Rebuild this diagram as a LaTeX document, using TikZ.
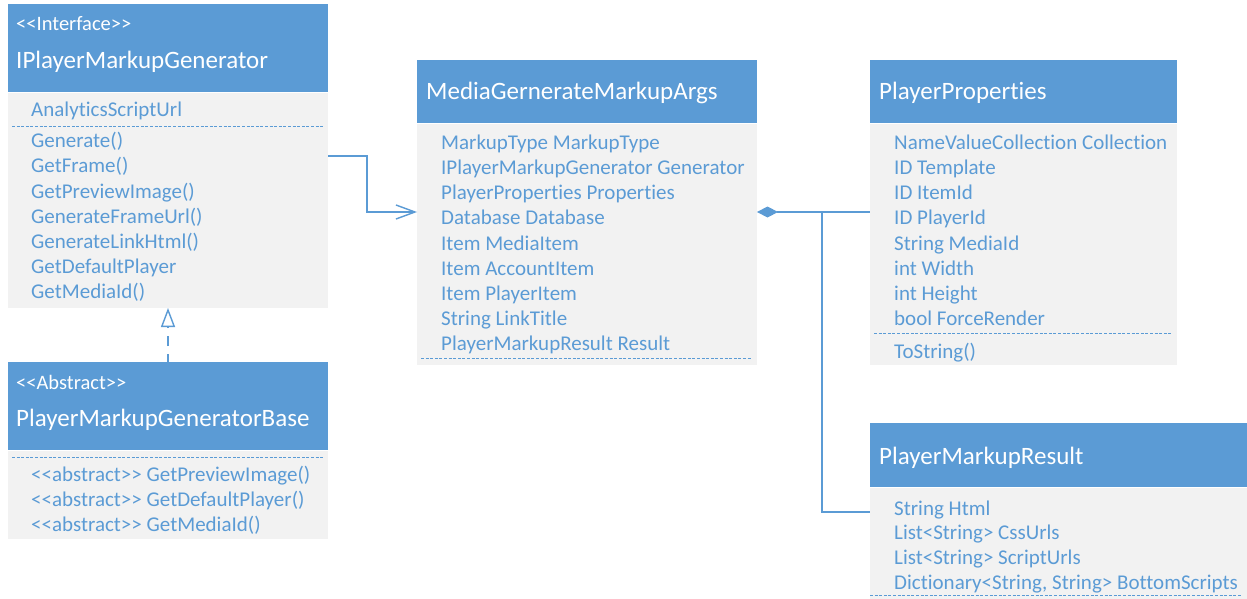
\documentclass[tikz,border=0pt]{standalone}
\usepackage{fontspec}
\setmainfont{Carlito}[Ligatures={TeXOff,CommonOff}]
\usetikzlibrary{arrows.meta,calc}
\definecolor{hdr}{HTML}{5B9BD5}
\definecolor{bodyc}{HTML}{F2F2F2}
\definecolor{txt}{HTML}{5B9BD5}
\begin{document}
\begin{tikzpicture}[x=1pt,y=-1pt,
  head/.style={fill=hdr, draw=none, inner sep=0, outer sep=0, anchor=north west},
  bodybox/.style={fill=bodyc, draw=none, inner sep=0, outer sep=0, anchor=north west},
  stereo/.style={anchor=base west, inner sep=0, text=white, font=\fontsize{20.5}{24}\selectfont},
  title/.style={anchor=base west, inner sep=0, text=white, font=\fontsize{25}{30}\selectfont},
  member/.style={anchor=base west, inner sep=0, text=txt, font=\fontsize{21}{25}\selectfont},
  sepline/.style={draw=hdr, line width=0.9pt, dash pattern=on 3pt off 1.6pt},
  conn/.style={draw=hdr, line width=1.4pt}]

\useasboundingbox (0,0) rectangle (1247,599);
\fill[white] (0,0) rectangle (1247,599);

% ---------- IPlayerMarkupGenerator ----------
\node[head, minimum width=320pt, minimum height=88pt] (aHead) at (8,4) {};
\node[bodybox, minimum width=320pt, minimum height=215pt] (aBody) at (8,93) {};
\node[stereo] (aSt) at (16,31) {<<Interface>>};
\node[title] (aTi) at (16,68.3) {IPlayerMarkupGenerator};
\node[member] (aAt) at (31,117) {AnalyticsScriptUrl};
\draw[sepline] (12,126) -- (323,126);
\foreach \t [count=\i from 0] in {Generate(), GetFrame(), GetPreviewImage(), GenerateFrameUrl(), GenerateLinkHtml(), GetDefaultPlayer, GetMediaId()}
  \node[member] (aM\i) at (31,{147.7+25.2*\i}) {\t};

% ---------- PlayerMarkupGeneratorBase ----------
\node[head, minimum width=320pt, minimum height=88pt] (bHead) at (8,362) {};
\node[bodybox, minimum width=320pt, minimum height=88pt] (bBody) at (8,451) {};
\node[stereo] (bSt) at (16,389.3) {<<Abstract>>};
\node[title] (bTi) at (16,426.7) {PlayerMarkupGeneratorBase};
\draw[sepline] (12,457) -- (323,457);
\foreach \t [count=\i from 0] in {<<abstract>> GetPreviewImage(), <<abstract>> GetDefaultPlayer(), <<abstract>> GetMediaId()}
  \node[member] (bM\i) at (31,{481.5+25.2*\i}) {\t};

% ---------- MediaGernerateMarkupArgs ----------
\node[head, minimum width=340pt, minimum height=63pt] (cHead) at (417,60) {};
\node[bodybox, minimum width=340pt, minimum height=241pt] (cBody) at (417,124) {};
\node[title] (cTi) at (426,100) {MediaGernerateMarkupArgs};
\foreach \t [count=\i from 0] in {MarkupType MarkupType, IPlayerMarkupGenerator Generator, PlayerProperties Properties, Database Database, Item MediaItem, Item AccountItem, Item PlayerItem, String LinkTitle, PlayerMarkupResult Result}
  \node[member] (cM\i) at (441,{149.3+25.2*\i}) {\t};
\draw[sepline] (421,358) -- (752,358);

% ---------- PlayerProperties ----------
\node[head, minimum width=307pt, minimum height=63pt] (dHead) at (870,60) {};
\node[bodybox, minimum width=307pt, minimum height=241pt] (dBody) at (870,124) {};
\node[title] (dTi) at (879,100) {PlayerProperties};
\foreach \t [count=\i from 0] in {NameValueCollection Collection, ID Template, ID ItemId, ID PlayerId, String MediaId, int Width, int Height, bool ForceRender}
  \node[member] (dM\i) at (894,{149.3+25.2*\i}) {\t};
\draw[sepline] (874,333) -- (1171,333);
\node[member] (dOp) at (894,358.3) {ToString()};

% ---------- PlayerMarkupResult ----------
\node[head, minimum width=377pt, minimum height=64pt] (eHead) at (870,423) {};
\node[bodybox, minimum width=377pt, minimum height=111pt] (eBody) at (870,488) {};
\node[title] (eTi) at (879,464.3) {PlayerMarkupResult};
\foreach \t [count=\i from 0] in {String Html, List<String> CssUrls, List<String> ScriptUrls, {Dictionary<String, String> BottomScripts}}
  \node[member] (eM\i) at (894,{515+24.8*\i}) {\t};
\draw[sepline] (870,595) -- (1242,595);

% ---------- connectors ----------
\coordinate (aOut) at ($(aBody.north east)+(0,63)$);
\coordinate (cIn) at ($(cBody.north west)+(0,88)$);
\draw[conn, -{Straight Barb[length=19pt,width=14pt]}] (aOut) -- ++(39,0) |- (cIn);

\draw[conn, dash pattern=on 10pt off 8pt, dash phase=2pt, -{Triangle[length=19pt,width=14pt,fill=white]}] (bHead.north) -- (aBody.south);

\coordinate (cOut) at ($(cBody.north east)+(0,88)$);
\coordinate (dIn) at ($(dBody.north west)+(0,88)$);
\draw[conn, {Diamond[length=21pt,width=11pt]}-] (cOut) -- (dIn);
\coordinate (br) at (822,212);
\coordinate (eIn) at ($(eBody.north west)+(0,24)$);
\draw[conn] (br) |- (eIn);
\end{tikzpicture}
\end{document}
